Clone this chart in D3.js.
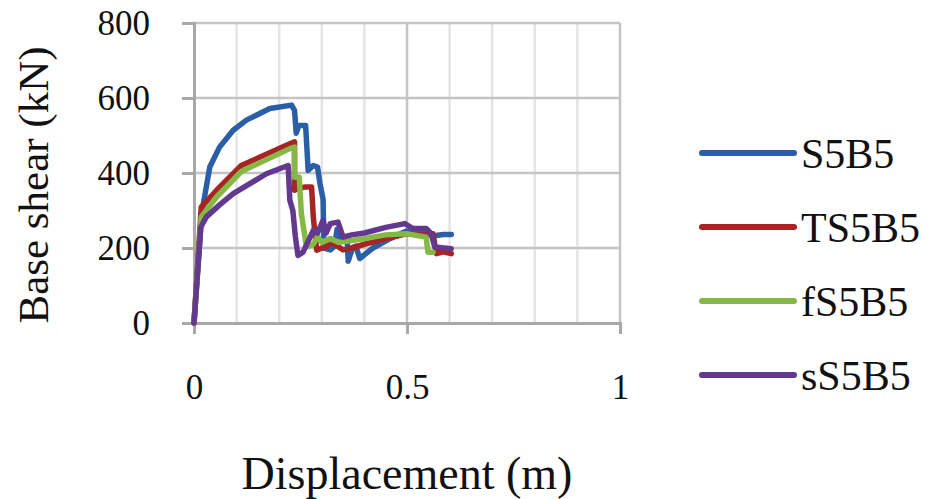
<!DOCTYPE html>
<html>
<head>
<meta charset="utf-8">
<script src="https://cdn.jsdelivr.net/npm/d3@7"></script>
<style>
  body { margin: 0; background: #fff; }
  svg { display: block; font-family: "Liberation Serif", "Times New Roman", serif; }
</style>
</head>
<body>
<div id="chart"></div>
<script>
const width = 925;
const height = 499;

// data: displacement (m) / base shear (kN)
const seriesNames = ["S5B5", "TS5B5", "fS5B5", "sS5B5"];
const seriesColors = ["#2a5fa8", "#a82424", "#86b845", "#62398f"];

const s5b5X = [0, 0.018, 0.037, 0.06, 0.092, 0.123, 0.178, 0.229, 0.236, 0.24, 0.246, 0.262, 0.268, 0.28, 0.29, 0.296, 0.303, 0.305, 0.32, 0.33, 0.336, 0.345, 0.36, 0.362, 0.372, 0.38, 0.389, 0.42, 0.46, 0.499, 0.52, 0.545, 0.56, 0.585, 0.604];
const s5b5Y = [0, 292, 416, 469, 514, 541, 572, 581, 567, 506, 527, 527, 407, 420, 416, 370, 330, 200, 195, 205, 250, 225, 215, 165, 200, 205, 172, 200, 225, 245, 238, 240, 232, 236, 236];

const ts5b5X = [0, 0.017, 0.053, 0.111, 0.225, 0.236, 0.236, 0.25, 0.262, 0.276, 0.28, 0.288, 0.3, 0.311, 0.32, 0.33, 0.35, 0.37, 0.4, 0.45, 0.499, 0.53, 0.561, 0.569, 0.585, 0.604];
const ts5b5Y = [0, 309, 354, 420, 478, 483, 354, 360, 363, 363, 283, 194, 200, 203, 215, 210, 195, 200, 210, 225, 238, 235, 238, 185, 190, 185];

const fs5b5X = [0, 0.017, 0.053, 0.111, 0.225, 0.236, 0.236, 0.247, 0.252, 0.264, 0.28, 0.29, 0.3, 0.32, 0.34, 0.37, 0.4, 0.45, 0.499, 0.545, 0.549, 0.561];
const fs5b5Y = [0, 283, 336, 404, 465, 469, 389, 389, 292, 203, 210, 230, 215, 225, 215, 220, 225, 235, 238, 229, 189, 189];

const ss5b5X = [0, 0.016, 0.029, 0.06, 0.092, 0.17, 0.221, 0.225, 0.232, 0.238, 0.244, 0.256, 0.28, 0.29, 0.303, 0.31, 0.32, 0.338, 0.35, 0.37, 0.4, 0.45, 0.495, 0.514, 0.545, 0.557, 0.565, 0.604];
const ss5b5Y = [0, 256, 283, 315, 345, 398, 420, 327, 300, 230, 180, 189, 247, 240, 274, 240, 265, 269, 229, 235, 240, 255, 265, 252, 252, 238, 203, 198];

const xTicks = [0, 0.5, 1];
const yTicks = [0, 200, 400, 600, 800];
const xGrid = d3.range(0, 11).map(i => i / 10);

const series = [
  { name: seriesNames[0], color: seriesColors[0], xs: s5b5X, ys: s5b5Y },
  { name: seriesNames[1], color: seriesColors[1], xs: ts5b5X, ys: ts5b5Y },
  { name: seriesNames[2], color: seriesColors[2], xs: fs5b5X, ys: fs5b5Y },
  { name: seriesNames[3], color: seriesColors[3], xs: ss5b5X, ys: ss5b5Y }
];

const plot = { left: 194, right: 620, top: 23, bottom: 323 };

const x = d3.scaleLinear().domain([0, 1]).range([plot.left, plot.right]);
const y = d3.scaleLinear().domain([0, 800]).range([plot.bottom, plot.top]);

const svg = d3.select("#chart").append("svg")
  .attr("width", width)
  .attr("height", height);

// gridlines
svg.append("g").selectAll("line")
  .data(xGrid.filter(v => v % 0.5 !== 0))
  .join("line")
  .attr("x1", d => x(d)).attr("x2", d => x(d))
  .attr("y1", plot.top).attr("y2", plot.bottom)
  .attr("stroke", "#e4e4e4")
  .attr("stroke-width", 2.5);

svg.append("g").selectAll("line")
  .data(yTicks.filter(v => v > 0))
  .join("line")
  .attr("x1", plot.left).attr("x2", plot.right)
  .attr("y1", d => y(d)).attr("y2", d => y(d))
  .attr("stroke", "#c4c4c4")
  .attr("stroke-width", 2.5);

svg.append("g").selectAll("line")
  .data([0.5, 1])
  .join("line")
  .attr("x1", d => x(d)).attr("x2", d => x(d))
  .attr("y1", plot.top).attr("y2", plot.bottom)
  .attr("stroke", "#c4c4c4")
  .attr("stroke-width", 2.5);

// axes
const yAxis = svg.append("g")
  .attr("transform", `translate(${plot.left},0)`)
  .call(d3.axisLeft(y).tickValues(yTicks).tickSize(12).tickPadding(32).tickFormat(d3.format("d")));

const xAxis = svg.append("g")
  .attr("transform", `translate(0,${plot.bottom})`)
  .call(d3.axisBottom(x).tickValues(xTicks).tickSize(11).tickPadding(40).tickFormat(d => d === 0.5 ? "0.5" : d3.format("d")(d)));

[yAxis, xAxis].forEach(g => {
  g.select(".domain").attr("stroke", "#a8a8a8").attr("stroke-width", 3);
  g.selectAll(".tick line").attr("stroke", "#a8a8a8").attr("stroke-width", 3);
  g.selectAll(".tick text")
    .attr("fill", "#111")
    .style("font-family", "'Liberation Serif', 'Times New Roman', serif")
    .style("font-size", "35px");
});

// series lines
const line = d3.line()
  .x(d => x(d[0]))
  .y(d => y(d[1]));

svg.append("g").selectAll("path")
  .data(series)
  .join("path")
  .attr("d", s => line(s.xs.map((v, i) => [v, s.ys[i]])))
  .attr("fill", "none")
  .attr("stroke", s => s.color)
  .attr("stroke-width", 5.5)
  .attr("stroke-linejoin", "round")
  .attr("stroke-linecap", "round");

// axis titles
svg.append("text")
  .attr("transform", `translate(48,${(plot.top + plot.bottom) / 2 + 12}) rotate(-90)`)
  .attr("text-anchor", "middle")
  .attr("fill", "#111")
  .style("font-size", "43px")
  .text("Base shear (kN)");

svg.append("text")
  .attr("x", (plot.left + plot.right) / 2)
  .attr("y", 489)
  .attr("text-anchor", "middle")
  .attr("fill", "#111")
  .style("font-size", "46px")
  .text("Displacement (m)");

// legend
const legendY = [153, 227, 301, 375];
const legend = svg.append("g").selectAll("g")
  .data(series)
  .join("g")
  .attr("transform", (d, i) => `translate(700,${legendY[i]})`);

legend.append("line")
  .attr("x1", 2).attr("x2", 94)
  .attr("stroke", d => d.color)
  .attr("stroke-width", 6)
  .attr("stroke-linecap", "round");

legend.append("text")
  .attr("x", 101)
  .attr("dy", "0.35em")
  .attr("fill", "#111")
  .style("font-size", "42px")
  .text(d => d.name);
</script>
</body>
</html>
